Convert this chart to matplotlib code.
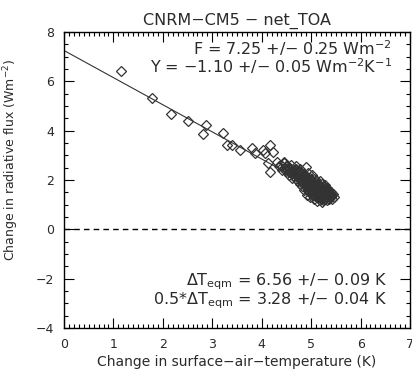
import matplotlib
matplotlib.use("Agg")
import matplotlib.pyplot as plt
from matplotlib.ticker import MultipleLocator
import numpy as np

title = "CNRM\u2212CM5 \u2212 net_TOA"
xlabel = "Change in surface\u2212air\u2212temperature (K)"
ylabel = "Change in radiative flux (Wm$^{-2}$)"

forcing = 7.25
slope = -1.10
line_xmax = 5.45

# scatter points (delta T, delta N)
xs = [1.15, 1.78, 2.16, 2.50, 2.81, 2.88, 3.21, 3.29, 3.39, 3.56, 3.80, 3.86, 4.02, 4.06,
      4.12, 4.16, 4.16, 4.22, 4.30, 4.35, 4.40, 4.42, 4.45, 4.46, 4.48, 4.50, 4.52, 4.55,
      4.57, 4.60, 4.60, 4.62, 4.65, 4.67, 4.70, 4.70, 4.72, 4.74, 4.75, 4.77, 4.78, 4.80,
      4.80, 4.82, 4.84, 4.85, 4.86, 4.88, 4.89, 4.90, 4.90, 4.91, 4.92, 4.93, 4.94, 4.95,
      4.96, 4.97, 4.98, 4.99, 5.00, 5.00, 5.01, 5.02, 5.03, 5.04, 5.05, 5.05, 5.06, 5.07,
      5.08, 5.09, 5.10, 5.10, 5.11, 5.12, 5.13, 5.14, 5.15, 5.16, 5.17, 5.18, 5.18, 5.19,
      5.20, 5.21, 5.22, 5.23, 5.24, 5.25, 5.26, 5.27, 5.28, 5.29, 5.30, 5.31, 5.32, 5.33,
      5.34, 5.35, 5.37, 5.38, 5.40, 5.42, 5.44, 5.46,
      4.45, 4.50, 4.53, 4.56, 4.58, 4.61, 4.63, 4.66, 4.68, 4.69, 4.71, 4.73, 4.76, 4.76,
      4.79, 4.79, 4.81, 4.83, 4.83, 4.86, 4.87, 4.87, 4.89, 4.91, 4.92, 4.93, 4.95, 4.96,
      4.97, 4.98, 4.99, 5.00, 5.01, 5.02, 5.03, 5.04, 5.05, 5.06, 5.07, 5.08, 5.09, 5.10,
      5.11, 5.12, 5.13, 5.14, 5.15, 5.16, 5.17, 5.18, 5.19, 5.20, 5.20, 5.22, 5.22, 5.23,
      5.24, 5.25, 5.26, 5.27, 5.28, 5.29, 5.30, 5.31, 5.32, 5.33, 5.35, 5.36, 5.38, 5.40,
      5.41, 5.43]
ys = [6.42, 5.33, 4.68, 4.40, 3.87, 4.25, 3.90, 3.42, 3.42, 3.22, 3.30, 3.10, 3.22, 3.10,
      2.70, 3.42, 2.33, 3.14, 2.75, 2.55, 2.62, 2.40, 2.70, 2.73, 2.50, 2.35, 2.58, 2.20,
      2.45, 2.62, 2.30, 2.10, 2.40, 2.25, 2.55, 2.05, 2.35, 1.95, 2.20, 2.45, 1.85, 2.30,
      2.10, 1.75, 2.00, 2.25, 1.60, 1.90, 1.80, 2.53, 2.15, 1.40, 2.00, 1.70, 2.30, 1.85,
      1.55, 2.10, 1.30, 1.75, 1.95, 1.60, 2.20, 1.45, 1.85, 1.70, 1.25, 2.05, 1.55, 1.90,
      1.35, 1.75, 1.62, 2.00, 1.15, 1.48, 1.85, 1.70, 1.30, 1.58, 1.95, 1.20, 1.75, 1.42,
      1.65, 1.11, 1.85, 1.52, 1.35, 1.72, 1.25, 1.60, 1.45, 1.80, 1.30, 1.55, 1.68, 1.20,
      1.40, 1.58, 1.30, 1.48, 1.38, 1.25, 1.45, 1.33,
      2.45, 2.55, 2.40, 2.32, 2.50, 2.40, 2.28, 2.15, 2.35, 2.45, 2.18, 2.28, 2.05, 2.35,
      2.00, 2.20, 1.95, 2.15, 1.85, 2.05, 1.75, 2.15, 1.95, 2.05, 1.80, 1.55, 1.95, 1.70,
      2.00, 1.60, 1.85, 1.45, 1.75, 1.95, 1.55, 1.80, 1.40, 1.70, 1.50, 1.85, 1.60, 1.40,
      1.75, 1.55, 1.30, 1.62, 1.45, 1.80, 1.35, 1.55, 1.68, 1.28, 1.50, 1.40, 1.62, 1.75,
      1.20, 1.50, 1.65, 1.35, 1.55, 1.25, 1.45, 1.65, 1.38, 1.50, 1.42, 1.25, 1.38, 1.50,
      1.30, 1.40]

ann_F = "F = 7.25 +/\u2212 0.25 Wm$^{-2}$"
ann_Y = "Y = \u22121.10 +/\u2212 0.05 Wm$^{-2}$K$^{-1}$"
ann_T1 = "$\\Delta$T$_{\\rm eqm}$ = 6.56 +/\u2212 0.09 K"
ann_T2 = "0.5$*\\Delta$T$_{\\rm eqm}$ = 3.28 +/\u2212 0.04 K"

xticks = [0, 1, 2, 3, 4, 5, 6, 7]
yticks = [-4, -2, 0, 2, 4, 6, 8]

tc = "#2a2a2a"
fig = plt.figure(figsize=(4.12, 3.75), dpi=100)
ax = fig.add_axes([64/412, 47/375, 346/412, 296/375])

ax.plot(xs, ys, linestyle="none", marker="D", markersize=5.5, markerfacecolor="none",
        markeredgecolor="#333333", markeredgewidth=0.9)
lx = np.array([0, line_xmax])
ax.plot(lx, forcing + slope * lx, color="#333333", lw=0.8)
ax.axhline(0, color="black", lw=1.0, linestyle=(0, (4, 3)))

ax.set_xlim(0, 7)
ax.set_ylim(-4, 8)
ax.set_xticks(xticks)
ax.set_yticks(yticks)
ax.xaxis.set_minor_locator(MultipleLocator(0.1))
ax.yaxis.set_minor_locator(MultipleLocator(0.5))
ax.tick_params(which="both", direction="in", top=True, right=True, colors="black",
               labelcolor=tc, labelsize=9, width=0.8)
ax.tick_params(which="major", length=7, pad=7)
ax.tick_params(which="minor", length=3)
for s in ax.spines.values():
    s.set_linewidth(1.0)

ax.set_title(title, fontsize=11.5, color=tc, pad=5)
ax.set_xlabel(xlabel, fontsize=10, color=tc, labelpad=3)
ax.set_ylabel(ylabel, fontsize=9, color=tc)
ax.yaxis.set_label_coords(-0.125, 0.568)

ax.text(0.948, 0.946, ann_F, transform=ax.transAxes, ha="right", va="center", fontsize=11.5, color=tc)
ax.text(0.948, 0.884, ann_Y, transform=ax.transAxes, ha="right", va="center", fontsize=11.5, color=tc)
ax.text(0.934, 0.155, ann_T1, transform=ax.transAxes, ha="right", va="center", fontsize=11.5, color=tc)
ax.text(0.934, 0.092, ann_T2, transform=ax.transAxes, ha="right", va="center", fontsize=11.5, color=tc)

fig.savefig("out.png", dpi=100)
